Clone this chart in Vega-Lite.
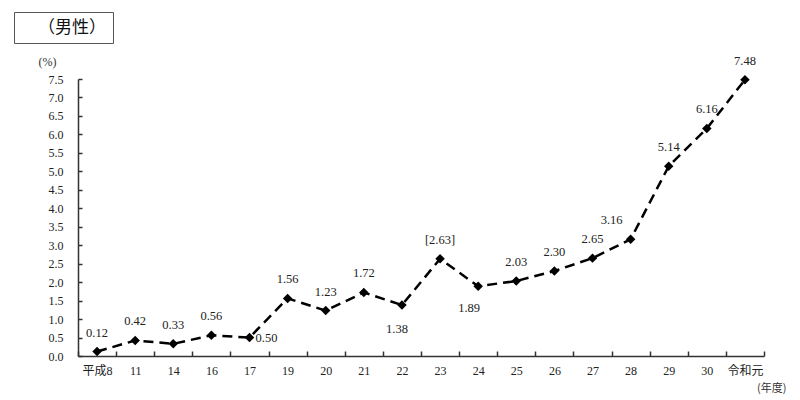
{
  "$schema": "https://vega.github.io/schema/vega-lite/v6.json",
  "background": "white",
  "padding": {"left": 13, "top": 11, "right": 5, "bottom": 5},
  "width": 686,
  "height": 277,
  "config": {"view": {"stroke": null}, "font": "Liberation Serif"},
  "data": {
    "values": [
      {"year": "平成8", "value": 0.12, "label": "0.12"},
      {"year": "11", "value": 0.42, "label": "0.42"},
      {"year": "14", "value": 0.33, "label": "0.33"},
      {"year": "16", "value": 0.56, "label": "0.56"},
      {"year": "17", "value": 0.50, "label": "0.50"},
      {"year": "19", "value": 1.56, "label": "1.56"},
      {"year": "20", "value": 1.23, "label": "1.23"},
      {"year": "21", "value": 1.72, "label": "1.72"},
      {"year": "22", "value": 1.38, "label": "1.38"},
      {"year": "23", "value": 2.63, "label": "[2.63]"},
      {"year": "24", "value": 1.89, "label": "1.89"},
      {"year": "25", "value": 2.03, "label": "2.03"},
      {"year": "26", "value": 2.30, "label": "2.30"},
      {"year": "27", "value": 2.65, "label": "2.65"},
      {"year": "28", "value": 3.16, "label": "3.16"},
      {"year": "29", "value": 5.14, "label": "5.14"},
      {"year": "30", "value": 6.16, "label": "6.16"},
      {"year": "令和元", "value": 7.48, "label": "7.48"}
    ]
  },
  "encoding": {
    "x": {
      "field": "year",
      "type": "ordinal",
      "bandPosition": 0.5,
      "scale": {"type": "band", "paddingInner": 0, "paddingOuter": 0,
        "domain": ["平成8", "11", "14", "16", "17", "19", "20", "21", "22", "23", "24", "25", "26", "27", "28", "29", "30", "令和元"]},
      "axis": {
        "title": "(年度)", "titleX": 708, "titleY": 32, "titleAlign": "right", "titleBaseline": "middle",
        "titleFontSize": 11, "titleFontWeight": "normal", "titleFont": "Noto Sans CJK JP", "titleColor": "#333333",
        "labelAngle": 0, "labelFontSize": 12, "labelPadding": 14, "labelColor": "#222222",
        "labelFont": "Liberation Serif, Noto Sans CJK JP",
        "tickBand": "extent", "tickSize": -5, "tickColor": "#333333", "tickWidth": 1.5,
        "domainColor": "#333333", "domainWidth": 1.5, "grid": false
      }
    },
    "y": {
      "field": "value",
      "type": "quantitative",
      "scale": {"domain": [0, 7.5], "nice": false},
      "axis": {
        "title": "(%)", "titleAngle": 0, "titleX": -31, "titleY": -18, "titleAlign": "center", "titleBaseline": "middle",
        "titleFont": "Liberation Serif", "titleFontSize": 12, "titleFontWeight": "normal", "titleColor": "#333333", "titlePadding": 0,
        "values": [0, 0.5, 1, 1.5, 2, 2.5, 3, 3.5, 4, 4.5, 5, 5.5, 6, 6.5, 7, 7.5],
        "format": ".1f", "labelFont": "Liberation Serif", "labelFontSize": 12, "labelPadding": 19, "labelColor": "#222222",
        "tickSize": -4, "tickColor": "#333333", "tickWidth": 1.5,
        "domainColor": "#333333", "domainWidth": 1.5, "grid": false, "minExtent": 64
      }
    }
  },
  "layer": [
    {"mark": {"type": "line", "color": "#000000", "strokeWidth": 2.5, "strokeDash": [10, 6]}},
    {"mark": {"type": "point", "shape": "diamond", "filled": true, "size": 90, "color": "#000000", "opacity": 1}},
    {
      "mark": {"type": "point", "size": 0, "opacity": 0, "strokeWidth": 0},
      "encoding": {
        "color": {
          "datum": "（男性）",
          "type": "nominal",
          "scale": {"range": ["#000000"]},
          "legend": {
            "title": null, "orient": "none", "legendX": -64, "legendY": -67,
            "strokeColor": "#555555", "padding": 7, "cornerRadius": 0,
            "symbolSize": 0, "symbolOpacity": 0, "symbolStrokeWidth": 0, "labelOffset": 0,
            "columnPadding": 0, "rowPadding": 0,
            "labelFont": "Noto Sans CJK JP", "labelFontSize": 17, "labelColor": "#111111", "labelLimit": 200
          }
        }
      }
    },
    {
      "transform": [{"filter": "indexof(['17','22','24','28'], datum.year) < 0"}],
      "mark": {"type": "text", "font": "Liberation Serif", "fontSize": 12.5, "color": "#222222", "baseline": "middle", "dy": -19},
      "encoding": {"text": {"field": "label"}}
    },
    {
      "transform": [{"filter": "datum.year === '17'"}],
      "mark": {"type": "text", "font": "Liberation Serif", "fontSize": 12.5, "color": "#222222", "baseline": "middle", "align": "left", "dx": 6},
      "encoding": {"text": {"field": "label"}}
    },
    {
      "transform": [{"filter": "datum.year === '22'"}],
      "mark": {"type": "text", "font": "Liberation Serif", "fontSize": 12.5, "color": "#222222", "baseline": "middle", "dx": -5, "dy": 24},
      "encoding": {"text": {"field": "label"}}
    },
    {
      "transform": [{"filter": "datum.year === '24'"}],
      "mark": {"type": "text", "font": "Liberation Serif", "fontSize": 12.5, "color": "#222222", "baseline": "middle", "dx": -9, "dy": 22},
      "encoding": {"text": {"field": "label"}}
    },
    {
      "transform": [{"filter": "datum.year === '28'"}],
      "mark": {"type": "text", "font": "Liberation Serif", "fontSize": 12.5, "color": "#222222", "baseline": "middle", "dx": -19, "dy": -19},
      "encoding": {"text": {"field": "label"}}
    }
  ]
}
